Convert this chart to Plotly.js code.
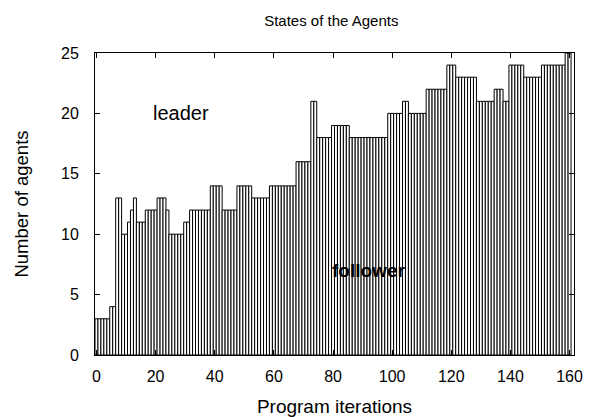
<!DOCTYPE html>
<html>
<head>
<meta charset="utf-8">
<script src="https://cdn.plot.ly/plotly-3.0.1.min.js"></script>
<style>html,body{margin:0;padding:0;background:#fff;}#chart{width:593px;height:417px;}</style>
</head>
<body>
<div id="chart"></div>
<script>
// Number of agents in the "follower" state at each program iteration (0..160)
var followerCounts = [
  3,3,3,3,3, 4,4, 13,13, 10,10, 11, 12, 13, 11,11,11, 12,12,12,12,
  13,13,13, 12, 10,10,10,10,10, 11,11, 12,12,12,12,12,12,12,
  14,14,14,14, 12,12,12,12,12, 14,14,14,14,14, 13,13,13,13,13,13,
  14,14,14,14,14,14,14,14,14, 16,16,16,16,16, 21,21, 18,18,18,18,18,
  19,19,19,19,19,19, 18,18,18,18,18,18,18,18,18,18,18,18,18,
  20,20,20,20,20, 21,21, 20,20,20,20,20,20, 22,22,22,22,22,22,22,
  24,24,24, 23,23,23,23,23,23,23, 21,21,21,21,21,21, 22,22,22, 21,21,
  24,24,24,24,24, 23,23,23,23,23,23, 24,24,24,24,24,24,24,24, 25,25
];
var iterations = followerCounts.map(function(_, i){ return i; });
var xTicks = [0, 20, 40, 60, 80, 100, 120, 140, 160];
var yTicks = [0, 5, 10, 15, 20, 25];
var stateLabels = ["leader", "follower"];

var font = "Arial, 'Liberation Sans', sans-serif";

var trace = {
  type: "bar",
  x: iterations,
  y: followerCounts,
  width: 1,
  marker: {color: "#ffffff", line: {color: "#000000", width: 1}},
  hoverinfo: "x+y"
};

var layout = {
  width: 593, height: 417,
  margin: {l: 95, r: 19, t: 53, b: 62},
  paper_bgcolor: "#ffffff",
  plot_bgcolor: "#ffffff",
  showlegend: false,
  bargap: 0,
  font: {family: font, size: 16, color: "#000"},
  title: {text: "States of the Agents", font: {family: font, size: 15, color: "#000"},
          x: 0.5587, xanchor: "center", y: 0.950, yanchor: "middle"},
  xaxis: {
    range: [-0.5, 161.5],
    tickvals: xTicks, ticktext: xTicks.map(String),
    ticks: "inside", ticklen: 5, tickcolor: "#000", tickwidth: 1,
    mirror: "ticks", showline: true, linecolor: "#000", linewidth: 1,
    showgrid: false, zeroline: false,
    tickfont: {family: font, size: 16, color: "#000"},
    ticklabelstandoff: 7,
    title: {text: "Program iterations", font: {family: font, size: 19, color: "#000"}, standoff: 16}
  },
  yaxis: {
    range: [0, 25],
    tickvals: yTicks, ticktext: yTicks.map(String),
    ticks: "inside", ticklen: 5, tickcolor: "#000", tickwidth: 1,
    mirror: "ticks", showline: true, linecolor: "#000", linewidth: 1,
    showgrid: false, zeroline: false,
    tickfont: {family: font, size: 16, color: "#000"},
    ticklabelstandoff: 12,
    title: {text: "Number of agents", font: {family: font, size: 18.5, color: "#000"}, standoff: 27}
  },
  annotations: [
    {text: stateLabels[0], x: 28.6, y: 20, xref: "x", yref: "y", showarrow: false,
     font: {family: font, size: 20, color: "#000"}},
    {text: "<b>" + stateLabels[1] + "</b>", x: 92, y: 7, xref: "x", yref: "y", showarrow: false,
     font: {family: font, size: 19, color: "#000"}}
  ]
};

Plotly.newPlot("chart", [trace], layout, {displayModeBar: false, staticPlot: true});
</script>
</body>
</html>
